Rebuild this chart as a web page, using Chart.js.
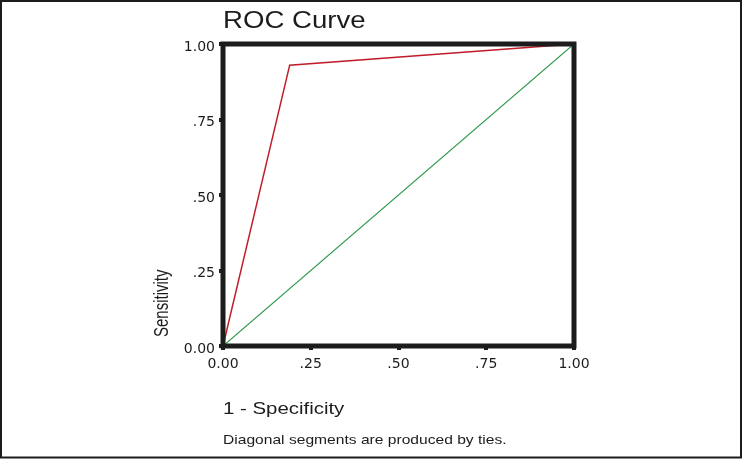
<!DOCTYPE html>
<html>
<head>
<meta charset="utf-8">
<script src="https://cdn.jsdelivr.net/npm/chart.js@4"></script>
<style>
  body { margin: 0; background: #fff; }
  canvas { display: block; }
</style>
</head>
<body>
<canvas id="roc" width="743" height="459"></canvas>
<script>
// ROC data (1 - specificity on x, sensitivity on y)
const rocX = [0, 0.19, 1];
const rocY = [0, 0.93, 1];
const refX = [0, 1];
const refY = [0, 1];

const xTickLabels = ['0.00', '.25', '.50', '.75', '1.00'];
const yTickLabels = ['0.00', '.25', '.50', '.75', '1.00'];

const titleText = 'ROC Curve';
const xTitle = '1 - Specificity';
const yTitle = 'Sensitivity';
const footNote = 'Diagonal segments are produced by ties.';

const ink = '#1c1c1c';
const stretch = 1.2; // the reference text looks widened

function pts(xs, ys)
{
    return xs.map((x, i) => ({ x: x, y: ys[i] }));
}

function wideText(ctx, text, x, y, font)
{
    ctx.save();
    ctx.font = font;
    ctx.translate(x, y);
    ctx.scale(stretch, 1);
    ctx.fillText(text, 0, 0);
    ctx.restore();
}

// outer border, plot frame and the free texts
const decorations = {
    id: 'decorations',
    beforeDraw(chart)
    {
        const ctx = chart.ctx;
        ctx.save();
        ctx.fillStyle = '#fff';
        ctx.fillRect(0, 0, chart.width, chart.height);
        ctx.strokeStyle = ink;
        ctx.lineWidth = 2;
        ctx.strokeRect(1, 1, 740, 456.5);
        ctx.restore();
    },
    afterDraw(chart)
    {
        const ctx = chart.ctx;
        const a = chart.chartArea;
        ctx.save();
        ctx.strokeStyle = ink;
        ctx.lineWidth = 5;
        ctx.strokeRect(a.left, a.top, a.right - a.left, a.bottom - a.top);

        ctx.fillStyle = ink;
        ctx.textAlign = 'left';
        ctx.textBaseline = 'alphabetic';
        wideText(ctx, titleText, a.left, 28, '23px "Liberation Sans", Arial, sans-serif');
        wideText(ctx, xTitle, a.left, 414, '17px "Liberation Sans", Arial, sans-serif');
        wideText(ctx, footNote, a.left, 444, '13px "Liberation Sans", Arial, sans-serif');

        // rotated y title
        ctx.font = '15px "Liberation Sans", Arial, sans-serif';
        ctx.translate(168, 337);
        ctx.scale(1.3, 1);
        ctx.rotate(-Math.PI / 2);
        ctx.fillText(yTitle, 0, 0);
        ctx.restore();
    }
};

const tickFont = { family: '"DejaVu Sans", sans-serif', size: 14 };

new Chart(document.getElementById('roc'), {
    type: 'scatter',
    data: {
        datasets: [
            {
                label: 'ROC',
                data: pts(rocX, rocY),
                showLine: true,
                borderColor: '#c01c2a',
                borderWidth: 1.5,
                pointRadius: 0
            },
            {
                label: 'Reference',
                data: pts(refX, refY),
                showLine: true,
                borderColor: '#2f9a4c',
                borderWidth: 1.2,
                pointRadius: 0
            }
        ]
    },
    options: {
        responsive: false,
        animation: false,
        layout: { padding: { left: 0, top: 44, right: 169, bottom: 0 } },
        plugins: {
            legend: { display: false },
            title: { display: false },
            tooltip: { enabled: false }
        },
        scales: {
            x: {
                type: 'linear',
                min: 0, max: 1,
                border: { display: false },
                grid: { drawOnChartArea: false, drawTicks: true, tickLength: 4, lineWidth: 4, color: ink },
                ticks: {
                    stepSize: 0.25,
                    autoSkip: false,
                    maxRotation: 0,
                    padding: 6,
                    color: ink,
                    font: tickFont,
                    callback: (v, i) => xTickLabels[i]
                },
                afterFit(scale) { scale.height = 113; }
            },
            y: {
                type: 'linear',
                min: 0, max: 1,
                border: { display: false },
                grid: { drawOnChartArea: false, drawTicks: true, tickLength: 4, lineWidth: 4, color: ink },
                ticks: {
                    stepSize: 0.25,
                    autoSkip: false,
                    padding: 4,
                    labelOffset: 3,
                    color: ink,
                    font: tickFont,
                    callback: (v, i) => yTickLabels[i]
                },
                afterFit(scale) { scale.width = 223; }
            }
        }
    },
    plugins: [decorations]
});
</script>
</body>
</html>
